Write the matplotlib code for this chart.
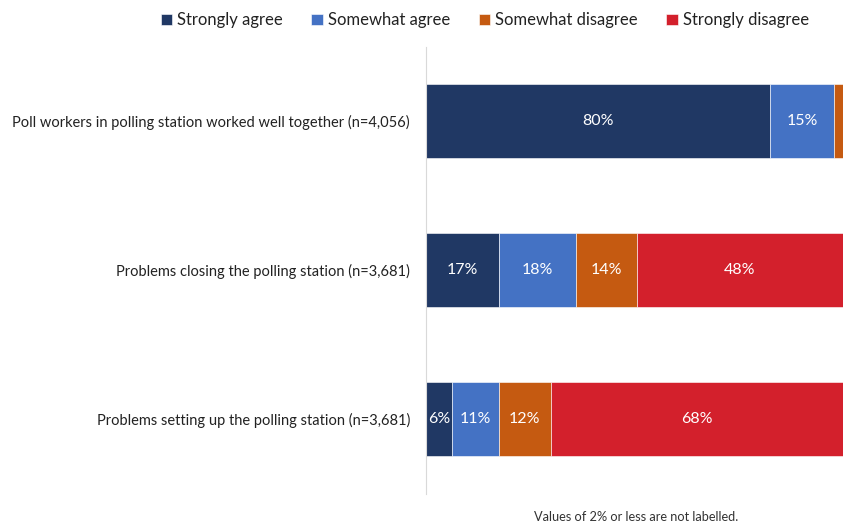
import matplotlib.pyplot as plt
import numpy as np

plt.rcParams['font.family'] = ['Lato', 'DejaVu Sans']

questions = [
    'Poll workers in polling station worked well together (n=4,056)',
    'Problems closing the polling station (n=3,681)',
    'Problems setting up the polling station (n=3,681)',
]
responses = ['Strongly agree', 'Somewhat agree', 'Somewhat disagree', 'Strongly disagree']
strongly_agree = [80, 17, 6]
somewhat_agree = [15, 18, 11]
somewhat_disagree = [2, 14, 12]
strongly_disagree = [1, 48, 68]
colors = ['#203864', '#4472C4', '#C55A11', '#D3202C']

fig = plt.figure(figsize=(8.43, 5.29), dpi=100)
ax = fig.add_axes([0.5053, 0.067, 0.4947, 0.845])

y = np.arange(len(questions))
left = np.zeros(len(questions))
series = [strongly_agree, somewhat_agree, somewhat_disagree, strongly_disagree]
for name, vals, col in zip(responses, series, colors):
    vals = np.array(vals, dtype=float)
    bars = ax.barh(y, vals, left=left, height=0.5, color=col, label=name,
                   edgecolor='white', linewidth=0.4)
    # values of 2% or less stay unlabelled
    for b, v in zip(bars, vals):
        if v > 2:
            ax.text(b.get_x() + b.get_width() / 2, b.get_y() + b.get_height() / 2,
                    f'{v:.0f}%', ha='center', va='center', color='white', fontsize=11.5)
    left += vals

ax.set_xlim(0, 97)
ax.set_ylim(2.5, -0.5)
ax.set_yticks(y)
ax.set_yticklabels(questions, fontsize=10.5, color='#222222')
ax.tick_params(axis='y', length=0, pad=11.5)
ax.set_xticks([])
for side in ['top', 'right', 'bottom']:
    ax.spines[side].set_visible(False)
ax.spines['left'].set_color('#d9d9d9')
ax.spines['left'].set_linewidth(0.8)

fig.legend(loc='upper center', bbox_to_anchor=(0.575, 1.005), ncol=4, frameon=False,
           fontsize=12, handlelength=0.7, handleheight=0.7, handletextpad=0.3,
           columnspacing=1.7, labelcolor='#222222')

fig.text(0.755, 0.012, 'Values of 2% or less are not labelled.', ha='center',
         va='bottom', fontsize=9.2, color='#333333')

fig.savefig('out.png', dpi=100)
